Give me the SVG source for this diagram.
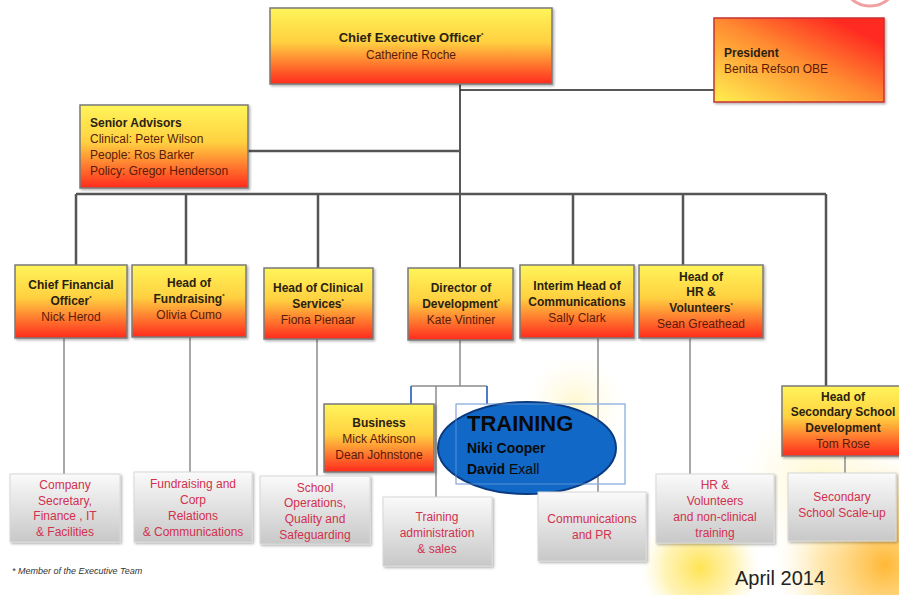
<svg xmlns="http://www.w3.org/2000/svg" width="899" height="595" viewBox="0 0 899 595">
<defs>
<linearGradient id="yr" x1="0" y1="0" x2="0" y2="1">
<stop offset="0" stop-color="#FFF55A"/><stop offset="0.45" stop-color="#FFD040"/><stop offset="1" stop-color="#FF2A1E"/>
</linearGradient>
<linearGradient id="pres" x1="0" y1="1" x2="1" y2="0">
<stop offset="0" stop-color="#FFF050"/><stop offset="0.5" stop-color="#FF8A30"/><stop offset="0.85" stop-color="#FF2A22"/>
</linearGradient>
<linearGradient id="gr" x1="0" y1="0" x2="0" y2="1">
<stop offset="0" stop-color="#FAFAFA"/><stop offset="1" stop-color="#C8C8C8"/>
</linearGradient>
<radialGradient id="glowY">
<stop offset="0" stop-color="#FFE040" stop-opacity="0.9"/><stop offset="0.6" stop-color="#FFE870" stop-opacity="0.5"/><stop offset="1" stop-color="#FFF8C0" stop-opacity="0"/>
</radialGradient>
<radialGradient id="glowO">
<stop offset="0" stop-color="#FFB020" stop-opacity="0.9"/><stop offset="0.6" stop-color="#FFD060" stop-opacity="0.5"/><stop offset="1" stop-color="#FFF0C0" stop-opacity="0"/>
</radialGradient>
<radialGradient id="glowF">
<stop offset="0" stop-color="#FFF6C0" stop-opacity="0.8"/><stop offset="1" stop-color="#FFFBE0" stop-opacity="0"/>
</radialGradient>
<filter id="sh" x="-10%" y="-10%" width="125%" height="130%">
<feDropShadow dx="1.5" dy="1.5" stdDeviation="1" flood-color="#000" flood-opacity="0.3"/>
</filter>
</defs>
<style>
.box{fill:url(#yr);stroke:#7a7a7a;stroke-width:1.5;filter:url(#sh)}
.gbox{fill:url(#gr);stroke:#d8d8d8;stroke-width:1;filter:url(#sh)}
text{font-family:"Liberation Sans",Arial,sans-serif}
.t{font-size:12px;font-weight:bold;fill:#2a2210;text-anchor:middle}
.n{font-size:12px;fill:#5a1a08;text-anchor:middle}
.l{text-anchor:start}
.g{fill:#D2304E;text-anchor:middle;font-size:12px}
.sup{font-size:6px}
.main{stroke:#555;stroke-width:2.5;fill:none}
.thin{stroke:#222;stroke-width:1.5;fill:none}
.sub{stroke:#8c8c8c;stroke-width:1.5;fill:none}
.blue{stroke:#4a7cc8;stroke-width:2;fill:none}
.tr{fill:#0a0a0a;font-size:14px}
</style>
<rect width="899" height="595" fill="#fff"/>
<g id="background">
<circle cx="575" cy="405" r="50" fill="url(#glowF)"/>
<circle cx="700" cy="568" r="60" fill="url(#glowY)"/>
<circle cx="885" cy="565" r="110" fill="url(#glowO)"/>
<circle cx="820" cy="480" r="80" fill="url(#glowF)"/>
<circle cx="870" cy="-22" r="28" fill="#fff" stroke="#f0a0a0" stroke-width="3"/>
</g>
<g id="connectors">
<path class="thin" d="M460 84V268M460 90H714"/>
<path class="main" d="M248 151H460"/>
<path class="main" d="M76 194H826M76 194V265M186 194V265M318 194V268M573 194V265M683 194V265M826 194V386"/>
<path class="sub" d="M64 338V474M190 337V472M317 339V476M598 338V492M690 338V474M845 456V473"/>
<path class="sub" d="M460 340V386M411 386H487M436 386V497"/>
<path class="blue" d="M411 386V404M487 386V404"/>
<rect x="456" y="404" width="169" height="80" fill="none" stroke="#8aaee0" stroke-width="1"/>
</g>
<g id="ceo">
<rect class="box" x="270" y="8" width="282" height="76"/>
<text class="t" x="411" y="42" style="font-size:13px">Chief Executive Officer<tspan class="sup" dy="-5">*</tspan></text>
<text class="n" x="411" y="59">Catherine  Roche</text>
</g>
<g id="president">
<rect x="714" y="18" width="170" height="84" fill="url(#pres)" stroke="#c83030" stroke-width="1.5" filter="url(#sh)"/>
<text class="t l" x="724" y="57">President</text>
<text class="n l" x="724" y="73">Benita Refson  OBE</text>
</g>
<g id="senior-advisors">
<rect class="box" x="80" y="105" width="168" height="83"/>
<text class="t l" x="90" y="127">Senior Advisors</text>
<text class="n l" x="90" y="143">Clinical: Peter Wilson</text>
<text class="n l" x="90" y="159">People: Ros Barker</text>
<text class="n l" x="90" y="175">Policy:  Gregor Henderson</text>
</g>
<g id="cfo">
<rect class="box" x="15" y="265" width="112" height="73"/>
<text class="t" x="71" y="289">Chief Financial</text>
<text class="t" x="71" y="305">Officer<tspan class="sup" dy="-5">*</tspan></text>
<text class="n" x="71" y="321">Nick Herod</text>
</g>
<g id="fundraising">
<rect class="box" x="132" y="265" width="114" height="72"/>
<text class="t" x="189" y="287">Head of</text>
<text class="t" x="189" y="303">Fundraising<tspan class="sup" dy="-5">*</tspan></text>
<text class="n" x="189" y="319">Olivia Cumo</text>
</g>
<g id="clinical">
<rect class="box" x="264" y="268" width="109" height="71"/>
<text class="t" x="318" y="292">Head of Clinical</text>
<text class="t" x="318" y="308">Services<tspan class="sup" dy="-5">*</tspan></text>
<text class="n" x="318" y="324">Fiona Pienaar</text>
</g>
<g id="director">
<rect class="box" x="408" y="268" width="105" height="72"/>
<text class="t" x="461" y="292">Director of</text>
<text class="t" x="461" y="308">Development<tspan class="sup" dy="-5">*</tspan></text>
<text class="n" x="461" y="324">Kate Vintiner</text>
</g>
<g id="comms">
<rect class="box" x="520" y="265" width="114" height="73"/>
<text class="t" x="577" y="290">Interim Head of</text>
<text class="t" x="577" y="306">Communications</text>
<text class="n" x="577" y="322">Sally Clark</text>
</g>
<g id="hr">
<rect class="box" x="639" y="265" width="124" height="73"/>
<text class="t" x="701" y="281">Head of</text>
<text class="t" x="701" y="296">HR &amp;</text>
<text class="t" x="701" y="312">Volunteers<tspan class="sup" dy="-5">*</tspan></text>
<text class="n" x="701" y="328">Sean Greathead</text>
</g>
<g id="secondary">
<rect class="box" x="782" y="386" width="122" height="70"/>
<text class="t" x="843" y="401">Head of</text>
<text class="t" x="843" y="416">Secondary School</text>
<text class="t" x="843" y="432">Development</text>
<text class="n" x="843" y="448">Tom Rose</text>
</g>
<g id="business">
<rect class="box" x="324" y="404" width="110" height="68"/>
<text class="t" x="379" y="427">Business</text>
<text class="n" x="379" y="443">Mick Atkinson</text>
<text class="n" x="379" y="459">Dean Johnstone</text>
</g>
<g id="training">
<ellipse cx="527" cy="448" rx="89" ry="46" fill="#1168C6" stroke="#0a3a80" stroke-width="2"/>
<rect x="456" y="404" width="169" height="80" fill="none" stroke="#8aaee0" stroke-width="1" opacity="0.6"/>
<text class="tr" x="467" y="431" style="font-size:22px;font-weight:bold">TRAINING</text>
<text class="tr" x="467" y="453" style="font-weight:bold">Niki Cooper</text>
<text class="tr" x="467" y="474"><tspan style="font-weight:bold">David</tspan> Exall</text>
</g>
<g id="company-secretary">
<rect class="gbox" x="10" y="474" width="110" height="68"/>
<text class="g" x="65" y="489">Company</text>
<text class="g" x="65" y="505">Secretary,</text>
<text class="g" x="65" y="520">Finance , IT</text>
<text class="g" x="65" y="536">&amp; Facilities</text>
</g>
<g id="fundraising-corp">
<rect class="gbox" x="134" y="472" width="118" height="70"/>
<text class="g" x="193" y="488">Fundraising  and</text>
<text class="g" x="193" y="504">Corp</text>
<text class="g" x="193" y="520">Relations</text>
<text class="g" x="193" y="536">&amp; Communications</text>
</g>
<g id="school-ops">
<rect class="gbox" x="260" y="476" width="110" height="68"/>
<text class="g" x="315" y="492">School</text>
<text class="g" x="315" y="507">Operations,</text>
<text class="g" x="315" y="523">Quality and</text>
<text class="g" x="315" y="539">Safeguarding</text>
</g>
<g id="training-admin">
<rect class="gbox" x="383" y="497" width="109" height="69"/>
<text class="g" x="437" y="521">Training</text>
<text class="g" x="437" y="537">administration</text>
<text class="g" x="437" y="553">&amp; sales</text>
</g>
<g id="comms-pr">
<rect class="gbox" x="538" y="492" width="108" height="69"/>
<text class="g" x="592" y="523">Communications</text>
<text class="g" x="592" y="539">and PR</text>
</g>
<g id="hr-volunteers">
<rect class="gbox" x="656" y="474" width="118" height="69"/>
<text class="g" x="715" y="489">HR &amp;</text>
<text class="g" x="715" y="505">Volunteers</text>
<text class="g" x="715" y="521">and non-clinical</text>
<text class="g" x="715" y="537">training</text>
</g>
<g id="secondary-scaleup">
<rect class="gbox" x="788" y="473" width="108" height="68"/>
<text class="g" x="842" y="501">Secondary</text>
<text class="g" x="842" y="517">School  Scale-up</text>
</g>
<text x="12" y="574" style="font-size:9px;font-style:italic;fill:#333">* Member of the Executive Team</text>
<text x="735" y="585" style="font-size:20px;fill:#222">April 2014</text>
</svg>
